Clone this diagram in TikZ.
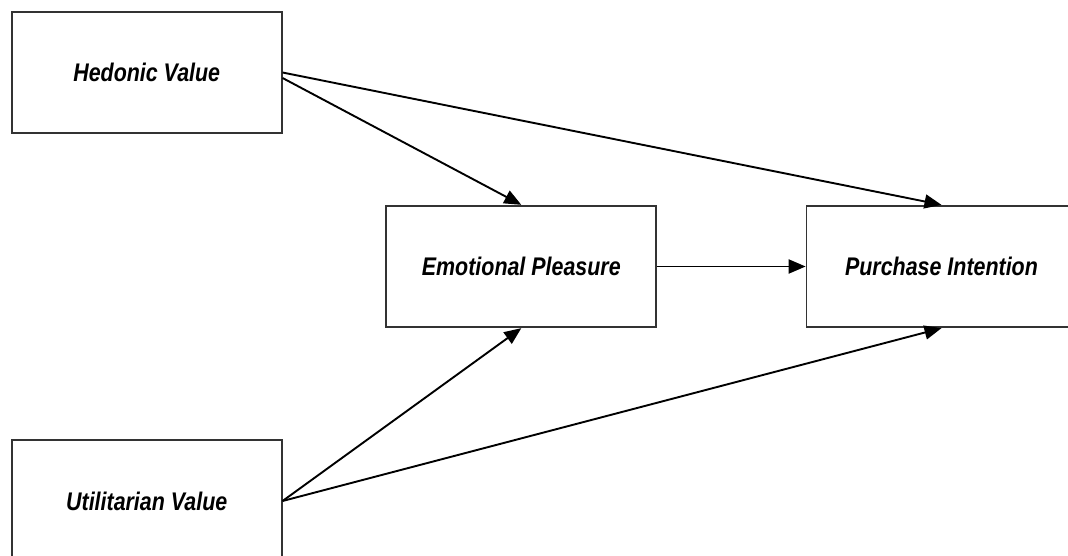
\documentclass[tikz,border=0pt]{standalone}
\usepackage{fontspec}
\newfontfamily\boxfont{Liberation Sans}[FakeStretch=0.84]
\usetikzlibrary{arrows.meta,calc}
\begin{document}
\begin{tikzpicture}[x=1pt,y=-1pt,
  box/.style={draw=black!80,line width=1.7pt,fill=white,rectangle,
    minimum width=270pt,minimum height=121.6pt,inner sep=0pt,
    font=\boxfont\bfseries\itshape\fontsize{25.5}{30}\selectfont},
  link/.style={line width=1.9pt,-{Triangle[length=17pt,width=14pt]}}]
\useasboundingbox (0,0) rectangle (1068,556);
\clip (0,0) rectangle (1068,556);
\fill[white] (0,0) rectangle (1068,556);
\node[box] (h) at (146.7,72.5) {Hedonic Value};
\node[box] (e) at (521.3,266.5) {Emotional Pleasure};
\node[box] (p) at (941.5,266.5) {Purchase Intention};
\node[box] (u) at (146.7,501) {Utilitarian Value};
\draw[link] ($(h.east)+(0,0)$) -- (p.north);
\draw[link] ($(h.east)+(0,5.5)$) -- (e.north);
\draw[link] (e.east) -- (p.west);
\draw[link] (u.east) -- (e.south);
\draw[link] (u.east) -- (p.south);
\end{tikzpicture}
\end{document}
